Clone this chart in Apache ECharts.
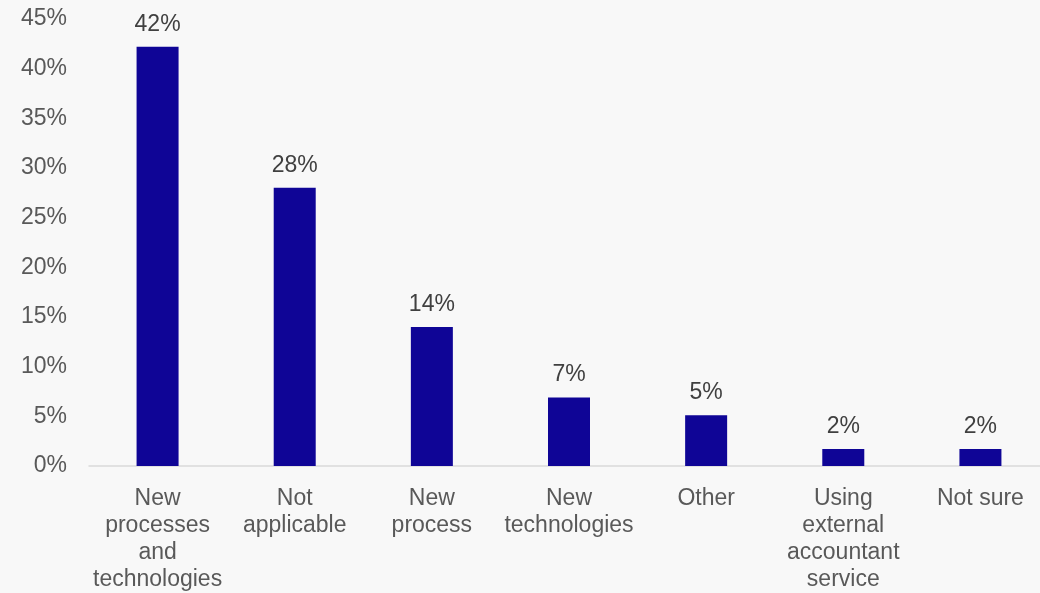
<!DOCTYPE html>
<html><head><meta charset="utf-8">
<script src="https://cdn.jsdelivr.net/npm/echarts@6/dist/echarts.min.js"></script>
<style>html,body{margin:0;padding:0;background:#f8f8f8;overflow:hidden;}#c{width:1049px;height:593px;}</style>
</head><body><div id="c"></div>
<script>
const categories = ["New\nprocesses\nand\ntechnologies", "Not\napplicable", "New\nprocess", "New\ntechnologies", "Other", "Using\nexternal\naccountant\nservice", "Not sure"];
const values = [42.2, 28, 14, 6.9, 5.1, 1.7, 1.7];
const yTicks = [0, 5, 10, 15, 20, 25, 30, 35, 40, 45];

const chart = echarts.init(document.getElementById('c'));
chart.setOption({
  backgroundColor: '#f8f8f8',
  animation: false,
  grid: { left: 89, right: 0, top: 19, bottom: 127, containLabel: false },
  xAxis: {
    type: 'category', data: categories,
    axisLine: { lineStyle: { color: '#d9d9d9', width: 1.5 } },
    axisTick: { show: false },
    axisLabel: { interval: 0, color: '#595959', fontFamily: 'Liberation Sans, Arial', fontSize: 23, lineHeight: 27, margin: 19 }
  },
  yAxis: {
    type: 'value', min: yTicks[0], max: yTicks[yTicks.length-1], interval: 5,
    splitLine: { show: false }, axisLine: { show: false }, axisTick: { show: false },
    axisLabel: { color: '#595959', fontFamily: 'Liberation Sans, Arial', fontSize: 23, margin: 22, padding: [3, 0, 0, 0], formatter: v => v + '%' }
  },
  series: [{
    type: 'bar', data: values, barWidth: 42,
    itemStyle: { color: '#0f0596' },
    label: { show: true, position: 'top', distance: 11, color: '#404040', fontFamily: 'Liberation Sans, Arial', fontSize: 23, formatter: p => Math.round(p.value) + '%' }
  }]
});
</script></body></html>
